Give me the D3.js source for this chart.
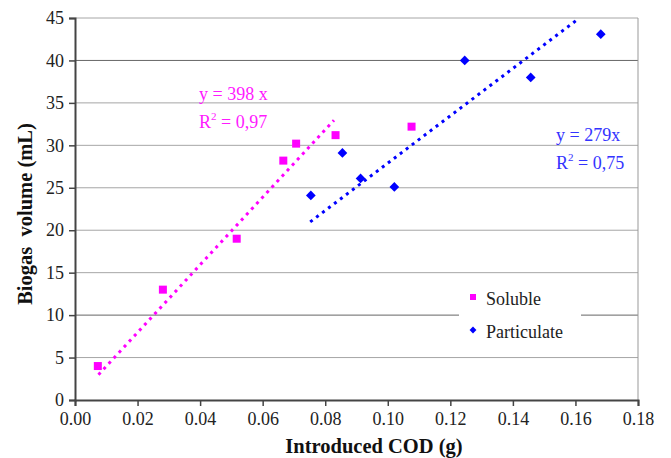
<!DOCTYPE html>
<html>
<head>
<meta charset="utf-8">
<script src="https://cdn.jsdelivr.net/npm/d3@7"></script>
<style>
  body { margin: 0; background: #fff; }
  text { font-family: 'Liberation Serif', serif; }
</style>
</head>
<body>
<div id="graf"></div>
<script>
// Datos
solubleX = [0.0073, 0.0281, 0.0517, 0.0666, 0.0707, 0.0833, 0.1076]
solubleY = [4, 13, 19, 28.2, 30.2, 31.2, 32.2]
particX = [0.0754, 0.0855, 0.0913, 0.1021, 0.1246, 0.1457, 0.1681]
particY = [24.1, 29.1, 26.1, 25.1, 40, 38, 43.1]
// Lineas de tendencia (pendiente, x inicio, x fin)
trendSoluble = [398, 0.0075, 0.0828]
trendPartic = [279, 0.0752, 0.1602]
xTicks = [0, 0.02, 0.04, 0.06, 0.08, 0.10, 0.12, 0.14, 0.16, 0.18]
yTicks = [0, 5, 10, 15, 20, 25, 30, 35, 40, 45]

fuente = 'Liberation Serif'
ancho_total = 671
alto_total = 458
margins = { top: 18, left: 75, right: 33, bottom: 58 }
ancho = ancho_total - margins.left - margins.right
alto = alto_total - margins.top - margins.bottom

svg = d3.select('#graf').append('svg')
  .attr('width', ancho_total)
  .attr('height', alto_total)
  .attr('font-family', fuente)

g = svg.append('g')
  .attr('transform', `translate(${margins.left}, ${margins.top})`)

x = d3.scaleLinear().domain([0, 0.18]).range([0, ancho])
y = d3.scaleLinear().domain([0, 45]).range([alto, 0])

// Lineas de cuadricula
g.selectAll('.grid')
  .data(yTicks.slice(1))
  .join('line')
  .attr('x1', 0).attr('x2', ancho)
  .attr('y1', d => y(d)).attr('y2', d => y(d))
  .attr('stroke', d => (d == 10 || d == 40) ? '#666' : '#a6a6a6')
  .attr('stroke-width', 1)

// borde derecho
g.append('line')
  .attr('x1', ancho).attr('x2', ancho)
  .attr('y1', 0).attr('y2', alto)
  .attr('stroke', '#999')

// Ejes
xAxis = g.append('g')
  .attr('transform', `translate(0, ${alto})`)
  .call(d3.axisBottom(x).tickValues(xTicks).tickFormat(d3.format('.2f')).tickSizeOuter(0).tickSize(6).tickPadding(6))
yAxis = g.append('g')
  .call(d3.axisLeft(y).tickValues(yTicks).tickSizeOuter(0).tickSize(6).tickPadding(5))

;[xAxis, yAxis].forEach(a => {
  a.attr('font-family', fuente).attr('font-size', 18)
  a.select('.domain').attr('stroke', '#444').attr('stroke-width', 2)
  a.selectAll('.tick line').attr('stroke', '#444').attr('stroke-width', 1.5)
  a.selectAll('.tick text').attr('fill', '#222')
})

// Titulos
svg.append('text')
  .attr('x', 374).attr('y', 453)
  .attr('text-anchor', 'middle')
  .attr('font-size', 20.5).attr('font-weight', 'bold')
  .attr('fill', '#111')
  .text('Introduced COD (g)')

svg.append('text')
  .attr('transform', 'translate(32, 214) rotate(-90)')
  .attr('text-anchor', 'middle')
  .attr('font-size', 20.5).attr('font-weight', 'bold')
  .style('white-space', 'pre')
  .attr('fill', '#111')
  .text('Biogas  volume (mL)')

// Generador de lineas de tendencia
lineaGen = d3.line().x(d => x(d[0])).y(d => y(d[1]))
function tendencia(t, color) {
  g.append('path')
    .attr('d', lineaGen([[t[1], t[0] * t[1]], [t[2], t[0] * t[2]]]))
    .attr('fill', 'none')
    .attr('stroke', color)
    .attr('stroke-width', 3)
    .attr('stroke-dasharray', '3,4.5')
}
tendencia(trendSoluble, '#ff00ff')
tendencia(trendPartic, '#0000ff')

// Puntos
g.selectAll('.sol')
  .data(solubleX)
  .join('rect')
  .attr('x', d => x(d) - 4)
  .attr('y', (d, i) => y(solubleY[i]) - 4)
  .attr('width', 8).attr('height', 8)
  .attr('fill', '#ff00ff')

diamante = d3.symbol().type(d3.symbolDiamond2).size(60)
g.selectAll('.par')
  .data(particX)
  .join('path')
  .attr('d', diamante)
  .attr('transform', (d, i) => `translate(${x(d)}, ${y(particY[i])})`)
  .attr('fill', '#0000ff')

// Ecuaciones
function ecuacion(px, py, eq, r2, color) {
  svg.append('text')
    .attr('x', px).attr('y', py)
    .attr('fill', color)
    .attr('font-size', 18)
    .text(eq)
  let t2 = svg.append('text')
    .attr('x', px).attr('y', py + 28)
    .attr('fill', color)
    .attr('font-size', 18)
  t2.append('tspan').text('R')
  t2.append('tspan').attr('dy', -8).attr('font-size', 11).text('2')
  t2.append('tspan').attr('dy', 8).text(' = ' + r2)
}
ecuacion(199, 100, 'y = 398 x', '0,97', '#ff1aff')
ecuacion(556, 141, 'y = 279x', '0,75', '#3333ff')

// Leyenda
leyenda = svg.append('g')
leyenda.append('rect')
  .attr('x', 459).attr('y', 283).attr('width', 122).attr('height', 66)
  .attr('fill', '#fff')
leyenda.append('rect')
  .attr('x', 470).attr('y', 294).attr('width', 6).attr('height', 6)
  .attr('fill', '#ff00ff')
leyenda.append('path')
  .attr('d', d3.symbol().type(d3.symbolDiamond2).size(30))
  .attr('transform', 'translate(473, 330)')
  .attr('fill', '#0000ff')
leyenda.append('text').attr('x', 486).attr('y', 305)
  .attr('font-size', 18).attr('fill', '#222').text('Soluble')
leyenda.append('text').attr('x', 486).attr('y', 338)
  .attr('font-size', 18).attr('fill', '#222').text('Particulate')
</script>
</body>
</html>
